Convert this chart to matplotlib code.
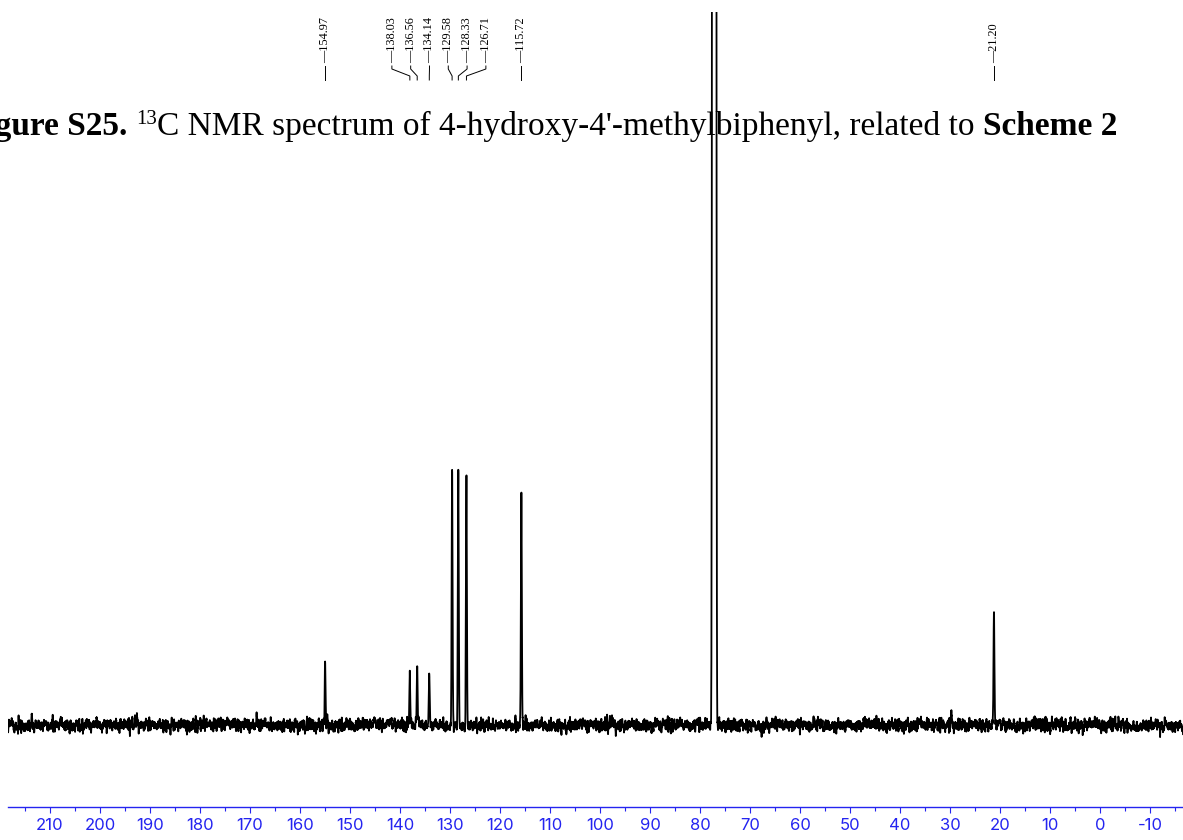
import numpy as np
import matplotlib
matplotlib.use("Agg")
import matplotlib.pyplot as plt
import matplotlib.transforms as mtransforms
from matplotlib.ticker import MultipleLocator

# peak list (ppm) and peak heights (arbitrary units, baseline = 0)
peak_ppm = [154.97, 138.03, 136.56, 134.14, 129.58, 128.33, 126.71, 115.72,
            77.48, 77.16, 76.84, 29.70, 21.20]
peak_height = [65, 54, 58, 51, 253, 254, 252, 239,
               2400, 2500, 2400, 10, 110]

# peaks that carry a label at the top
label_ppm = [154.97, 138.03, 136.56, 134.14, 129.58, 128.33, 126.71, 115.72, 21.20]

# title pieces: bold lead, superscript, plain text, bold tail
title_parts = ["Figure S25. ", "13", "C NMR spectrum of 4-hydroxy-4'-methylbiphenyl, related to ",
               "Scheme 2"]

plt.rcParams['axes.unicode_minus'] = False

W, H = 1183, 840
fig = plt.figure(figsize=(W / 100, H / 100), dpi=100)
ax = fig.add_axes([8 / W, 1 - 807 / H, 1 - 8 / W, (807 - 12) / H])
ax.set_facecolor('none')

# spectrum: gaussian lines plus baseline noise
ppm = np.arange(-17, 219, 0.02)
sigma = 0.09
spec = np.zeros_like(ppm)
for p, h in zip(peak_ppm, peak_height):
    spec += h * np.exp(-0.5 * ((ppm - p) / sigma) ** 2)
rng = np.random.default_rng(7)
noise = rng.normal(0, 7.0, ppm.size)
noise = np.convolve(noise, np.ones(5) / 5, mode='same')
spec += noise

ax.plot(ppm, spec, color='black', lw=1.3, zorder=3)

ax.set_xlim(218.4, -16.6)
ax.set_ylim(-82, 713)
for s in ['left', 'right', 'top']:
    ax.spines[s].set_visible(False)
blue = '#2424f0'
ax.spines['bottom'].set_color(blue)
ax.spines['bottom'].set_linewidth(1.0)
ax.set_yticks([])
ax.xaxis.set_major_locator(MultipleLocator(10))
ax.xaxis.set_minor_locator(MultipleLocator(5))
ax.tick_params(axis='x', which='major', direction='out', length=4.5, width=0.8,
               color=blue, labelcolor=blue, labelsize=12, pad=3.5)
ax.tick_params(axis='x', which='minor', direction='out', length=3, width=0.8, color=blue)
for lab in ax.get_xticklabels():
    lab.set_fontfamily('Inter')


# spread labels so that neighbouring texts do not overlap
def spread(positions, gap):
    clusters = [[p] for p in sorted(positions, reverse=True)]
    centers = [p for p in sorted(positions, reverse=True)]
    merged = True
    while merged:
        merged = False
        for i in range(len(clusters) - 1):
            lo_i = centers[i] - (len(clusters[i]) - 1) * gap / 2
            hi_j = centers[i + 1] + (len(clusters[i + 1]) - 1) * gap / 2
            if lo_i - hi_j < gap:
                members = clusters[i] + clusters[i + 1]
                clusters[i] = members
                centers[i] = np.mean(members)
                del clusters[i + 1]
                del centers[i + 1]
                merged = True
                break
    out = []
    for c, members in zip(centers, clusters):
        n = len(members)
        out += [c + (n - 1) * gap / 2 - k * gap for k in range(n)]
    return out


text_x = spread(label_ppm, 3.76)
trans = mtransforms.blended_transform_factory(ax.transData, fig.transFigure)


def fy(px):
    return 1 - px / H


for p, tx in zip(sorted(label_ppm, reverse=True), text_x):
    ax.text(tx, fy(63), "\u2014" + f"{p:.2f}", rotation=90, ha='center', va='bottom',
            fontsize=8.8, family='Liberation Serif', transform=trans, clip_on=False)
    ax.plot([tx, tx, p, p], [fy(66), fy(69), fy(76), fy(80)], color='black',
            lw=0.7, transform=trans, clip_on=False)

# title, laid out right to left and kept behind the spectrum
renderer = fig.canvas.get_renderer()
x_right = 1117
sizes = [24, 15, 24, 24]
weights = ['bold', 'normal', 'normal', 'bold']
rises = [0, 11, 0, 0]
for txt, size, weight, rise in reversed(list(zip(title_parts, sizes, weights, rises))):
    t = fig.text(x_right / W, fy(135 - rise), txt, ha='right', va='baseline',
                 fontsize=size, weight=weight, family='Liberation Serif', zorder=-1)
    x_right -= t.get_window_extent(renderer).width

fig.savefig('out.png', dpi=100)
